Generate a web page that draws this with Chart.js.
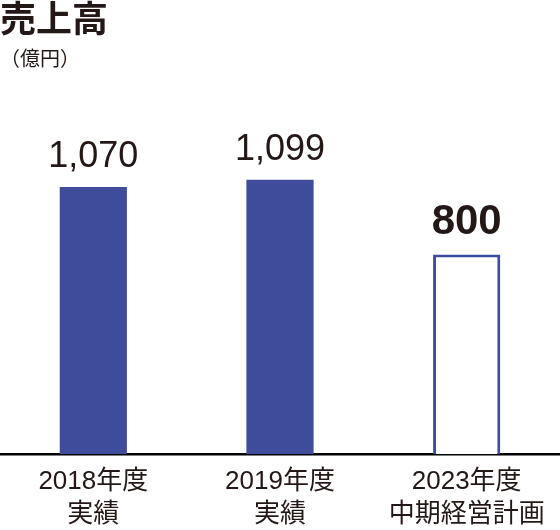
<!DOCTYPE html>
<html lang="ja">
<head>
<meta charset="UTF-8">
<title>売上高</title>
<style>
    body { margin: 0; background: #fff; }
    canvas { display: block; }
</style>
<script src="https://cdn.jsdelivr.net/npm/chart.js"></script>
</head>
<body>
<canvas id="salesChart" width="560" height="530"></canvas>
<script>
    // data
    const categories = [['2018年度', '実績'], ['2019年度', '実績'], ['2023年度', '中期経営計画']];
    const sales = [1070, 1099, 800];
    const isPlan = [false, false, true];   // the 2023 bar is a target, drawn hollow

    const blue = '#3f4c9c';
    const ink = '#231815';
    const fam = "'Liberation Sans', Arial, 'Noto Sans CJK JP', sans-serif";

    // numbers above each bar
    const valueLabels = {
        id: 'valueLabels',
        afterDatasetsDraw(chart) {
            const ctx = chart.ctx;
            const meta = chart.getDatasetMeta(0);
            ctx.save();
            ctx.fillStyle = ink;
            ctx.textAlign = 'center';
            ctx.textBaseline = 'alphabetic';
            meta.data.forEach(function (bar, i) {
                ctx.font = isPlan[i] ? "bold 42px " + fam : "36px " + fam;
                ctx.fillText(sales[i].toLocaleString('en-US'), bar.x, bar.y - 20);
            });
            ctx.restore();
        }
    };

    new Chart(document.getElementById('salesChart'), {
        type: 'bar',
        data: {
            labels: categories,
            datasets: [{
                data: sales,
                backgroundColor: isPlan.map(p => p ? '#ffffff' : blue),
                borderColor: blue,
                borderWidth: isPlan.map(p => p ? 3 : 0),
                barPercentage: 0.36,
                categoryPercentage: 1
            }]
        },
        options: {
            responsive: false,
            animation: false,
            devicePixelRatio: 1,
            layout: { padding: { top: 0, left: 0, right: 0, bottom: -12 } },
            plugins: {
                legend: { display: false },
                tooltip: { enabled: false },
                title: {
                    display: true,
                    text: '売上高',
                    align: 'start',
                    color: ink,
                    font: { family: "'Noto Sans CJK JP', sans-serif", size: 36, weight: 'bold', lineHeight: 1.0 },
                    padding: { top: 0, bottom: 8 }
                },
                subtitle: {
                    display: true,
                    text: '（億円）',
                    align: 'start',
                    color: ink,
                    font: { family: "'Noto Sans CJK JP', sans-serif", size: 20, lineHeight: 1.14 },
                    padding: { top: 3, bottom: 35 }
                }
            },
            scales: {
                x: {
                    grid: { display: false, drawTicks: false },
                    border: { display: true, color: '#000', width: 2.5 },
                    ticks: {
                        color: ink,
                        padding: 11,
                        font: { family: fam, size: 26, lineHeight: 1.27 }
                    }
                },
                y: {
                    display: false,
                    min: 0,
                    max: 1400
                }
            }
        },
        plugins: [valueLabels]
    });
</script>
</body>
</html>
